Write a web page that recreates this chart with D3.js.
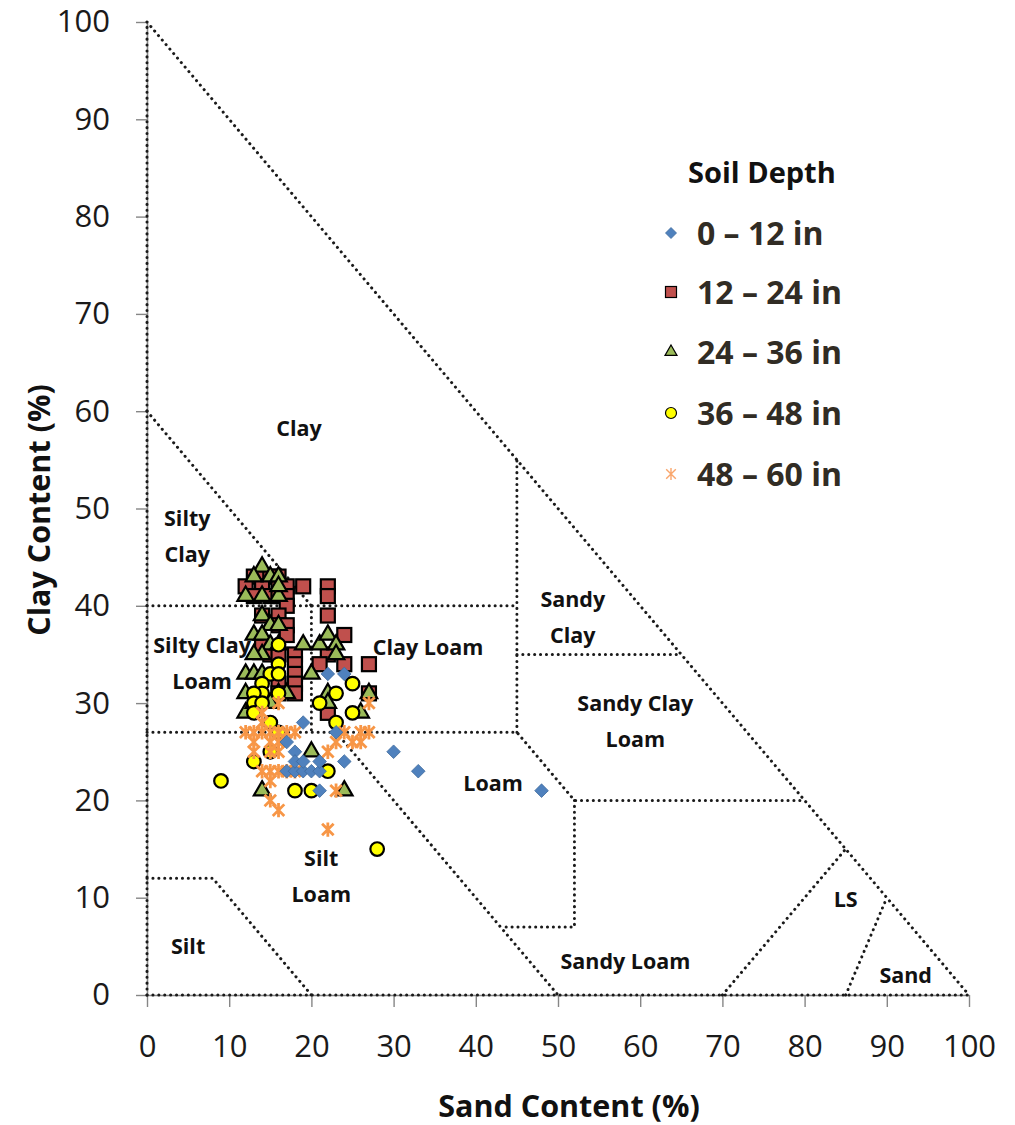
<!DOCTYPE html>
<html>
<head>
<meta charset="utf-8">
<script src="https://cdn.jsdelivr.net/npm/d3@7"></script>
<style>
  html, body { margin: 0; padding: 0; background: #fff; }
  svg { display: block; }
</style>
</head>
<body>
<svg id="chart" width="1015" height="1125"></svg>
<script>
// Sand / clay content (%) of soil samples, grouped by sampling depth
const depth0to12 = [[48,21],[33,23],[30,25],[24,24],[24,33],[22,33],[19,28],[17,26],[18,25],[23,27],
  [17,23],[18,23],[19,23],[20,23],[21,23],[18,24],[19,24],[21,24],[21,21]];
const depth12to24 = [[13,43],[14,43],[15,43],[16,43],[12,42],[14,42],[16,42],[17,42],[13,41],[15,41],
  [16,41],[17,41],[17,40],[14,39],[16,39],[16,38],[17,38],[17,37],[14,36],[15,35],[16,35],[18,35],
  [18,34],[18,33],[18,32],[18,31],[16,32],[19,42],[22,42],[22,41],[22,39],[24,37],[22,35],[21,34],
  [24,34],[27,34],[22,29],[27,31],[16,31]];
const depth24to36 = [[14,44],[13,43],[15,43],[16,43],[12,41],[14,41],[16,41],[16,42],[14,39],[15,38],
  [16,38],[13,37],[14,37],[15,36],[14,35],[13,35],[16,36],[12,33],[13,33],[14,33],[12,31],[16,31],
  [17,31],[12,29],[15,30],[13,30],[19,36],[21,36],[22,37],[23,36],[23,35],[20,33],[22,31],[22,30],
  [26,29],[27,31],[20,25],[24,21],[14,21]];
const depth36to48 = [[16,36],[16,34],[15,33],[16,33],[14,32],[14,31],[13,31],[16,31],[13,30],[14,30],
  [13,29],[15,28],[15,25],[13,24],[9,22],[18,21],[20,21],[22,23],[28,15],[21,30],[23,31],[25,32],
  [25,29],[23,28],[16,27]];
const depth48to60 = [[12,27],[13,27],[14,27],[15,27],[16,27],[17,27],[18,27],[14,28],[14,29],[16,30],
  [13,26],[15,26],[16,26],[13,25],[15,25],[16,25],[14,23],[15,23],[16,23],[17,23],[18,23],[15,22],
  [15,20],[16,19],[22,25],[23,26],[24,27],[25,26],[26,27],[26,26],[27,27],[27,30],[23,21],[22,17]];

const seriesNames = ["0 \u2013 12 in", "12 \u2013 24 in", "24 \u2013 36 in", "36 \u2013 48 in", "48 \u2013 60 in"];
const xTicks = [0,10,20,30,40,50,60,70,80,90,100];
const yTicks = [0,10,20,30,40,50,60,70,80,90,100];

// USDA texture-class boundaries as [sand, clay] polylines
const boundaries = [
  [[0,100],[100,0]],
  [[0,60],[20,40]],
  [[0,40],[45,40]],
  [[20,40],[20,27]],
  [[45,27],[45,55]],
  [[45,35],[65,35]],
  [[0,27],[45,27],[52,20],[80,20]],
  [[52,20],[52,7],[43,7]],
  [[23,27],[50,0]],
  [[0,12],[8,12],[20,0]],
  [[70,0],[85,15]],
  [[85,0],[90,10]],
  [[0,0],[100,0]],
  [[0,0],[0,100]]
];

// Texture-class names and their [sand, clay] anchor (lines are stacked)
const classLabels = [
  {lines:["Clay"], at:[18.5,58.3]},
  {lines:["Silty","Clay"], at:[4.9,47.2]},
  {lines:["Silty Clay","Loam"], at:[6.7,34.2]},
  {lines:["Clay Loam"], at:[34.2,35.8]},
  {lines:["Sandy","Clay"], at:[51.8,38.9]},
  {lines:["Sandy Clay","Loam"], at:[59.4,28.2]},
  {lines:["Loam"], at:[42.1,21.8]},
  {lines:["Silt","Loam"], at:[21.2,12.3]},
  {lines:["Silt"], at:[5,5.1]},
  {lines:["Sandy Loam"], at:[58.2,3.5]},
  {lines:["LS"], at:[85,9.9]},
  {lines:["Sand"], at:[92.3,2.1]}
];

const svg = d3.select("#chart");
const x = d3.scaleLinear().domain([0,100]).range([147,969]);
const y = d3.scaleLinear().domain([0,100]).range([995,22]);

// Axes
const axisColor = "#868686";
const gx = svg.append("g").attr("transform", `translate(0,${y(0)})`)
  .call(d3.axisBottom(x).tickValues(xTicks).tickSize(12).tickPadding(28).tickSizeOuter(0));
const gy = svg.append("g").attr("transform", `translate(${x(0)},0)`)
  .call(d3.axisLeft(y).tickValues(yTicks).tickSize(11).tickPadding(26).tickSizeOuter(0));
[gx, gy].forEach(g => {
  g.select(".domain").attr("stroke", axisColor).attr("stroke-width", 1.6);
  g.selectAll(".tick line").attr("stroke", axisColor).attr("stroke-width", 1.4);
  g.selectAll(".tick text").attr("fill", "#1a1a1a")
    .style("font-family", "'Open Sans', sans-serif").style("font-size", "31px");
});

// Boundary lines (dotted)
const line = d3.line().x(d => x(d[0])).y(d => y(d[1]));
svg.append("g").selectAll("path").data(boundaries).join("path")
  .attr("d", line).attr("fill", "none").attr("stroke", "#1a1a1a")
  .attr("stroke-width", 3).attr("stroke-linecap", "round")
  .attr("stroke-dasharray", "0.1 5.8");

// Class labels
const lbl = svg.append("g").style("font-family", "'Open Sans', sans-serif")
  .style("font-weight", "700").style("font-size", "21.5px").attr("fill", "#111");
classLabels.forEach(c => {
  const n = c.lines.length;
  c.lines.forEach((t, i) => {
    lbl.append("text").attr("x", x(c.at[0])).attr("y", y(c.at[1]) + (i - (n - 1) / 2) * 36)
      .attr("text-anchor", "middle").attr("dominant-baseline", "central").text(t);
  });
});

// Marker painters
function diamond(g, s, stroke, sw) {
  g.append("path").attr("d", `M0,${-s}L${s},0L0,${s}L${-s},0Z`)
    .attr("fill", "#4f81bd").attr("stroke", stroke).attr("stroke-width", sw);
}
function square(g, s, sw) {
  g.append("rect").attr("x", -s).attr("y", -s).attr("width", 2*s).attr("height", 2*s)
    .attr("fill", "#c0504d").attr("stroke", "#000").attr("stroke-width", sw);
}
function triangle(g, s, sw) {
  const h = s * Math.sqrt(3) / 2;
  g.append("path").attr("d", `M0,${-h*0.67}L${s/2},${h*0.33}L${-s/2},${h*0.33}Z`)
    .attr("fill", "#9bbb59").attr("stroke", "#000").attr("stroke-width", sw).attr("stroke-linejoin", "miter");
}
function circle(g, r, sw) {
  g.append("circle").attr("r", r).attr("fill", "#ffff00").attr("stroke", "#000").attr("stroke-width", sw);
}
function asterisk(g, s, color, sw) {
  const d = s * 0.8;
  g.append("path").attr("d", `M0,${-s}V${s}M${-d},${-d}L${d},${d}M${d},${-d}L${-d},${d}`)
    .attr("stroke", color).attr("stroke-width", sw).attr("fill", "none");
}

const series = [
  {data: depth12to24, draw: g => square(g, 7, 2.2)},
  {data: depth24to36, draw: g => triangle(g, 16.5, 2.2)},
  {data: depth36to48, draw: g => circle(g, 6.8, 2.2)},
  {data: depth48to60, draw: g => asterisk(g, 7.2, "#f79646", 2.8)},
  {data: depth0to12, draw: g => diamond(g, 6.8, "#3d6a9c", 0.8)}
];
const pts = svg.append("g");
series.forEach(s => {
  pts.append("g").selectAll("g").data(s.data).join("g")
    .attr("transform", d => `translate(${x(d[0])},${y(d[1])})`)
    .each(function() { s.draw(d3.select(this)); });
});

// Legend
const leg = svg.append("g").style("font-family", "'Open Sans', sans-serif").style("font-weight", "700");
leg.append("text").attr("x", 688).attr("y", 183).style("font-size", "29px").attr("fill", "#111").text("Soil Depth");
const legendPainters = [
  g => diamond(g, 5.5, "#3d6a9c", 0.8),
  g => square(g, 5.5, 1.2),
  g => triangle(g, 12, 1.2),
  g => circle(g, 5.5, 1.2),
  g => asterisk(g, 6, "#f9a66c", 1.4)
];
const rowY = [233, 292, 352, 413, 474];
seriesNames.forEach((name, i) => {
  const g = leg.append("g").attr("transform", `translate(671,${rowY[i]})`);
  legendPainters[i](g);
  leg.append("text").attr("x", 697).attr("y", rowY[i] + 11.5).style("font-size", "32px")
    .attr("fill", "#312c24").text(name);
});

// Axis titles
const titleFont = "'Open Sans', sans-serif";
svg.append("text").attr("x", 569).attr("y", 1117).attr("text-anchor", "middle")
  .style("font-family", titleFont).style("font-weight", "700").style("font-size", "30.5px")
  .attr("fill", "#111").text("Sand Content (%)");
svg.append("text").attr("transform", "translate(50,510) rotate(-90)").attr("text-anchor", "middle")
  .style("font-family", titleFont).style("font-weight", "700").style("font-size", "30.5px")
  .attr("fill", "#111").text("Clay Content (%)");
</script>
</body>
</html>
